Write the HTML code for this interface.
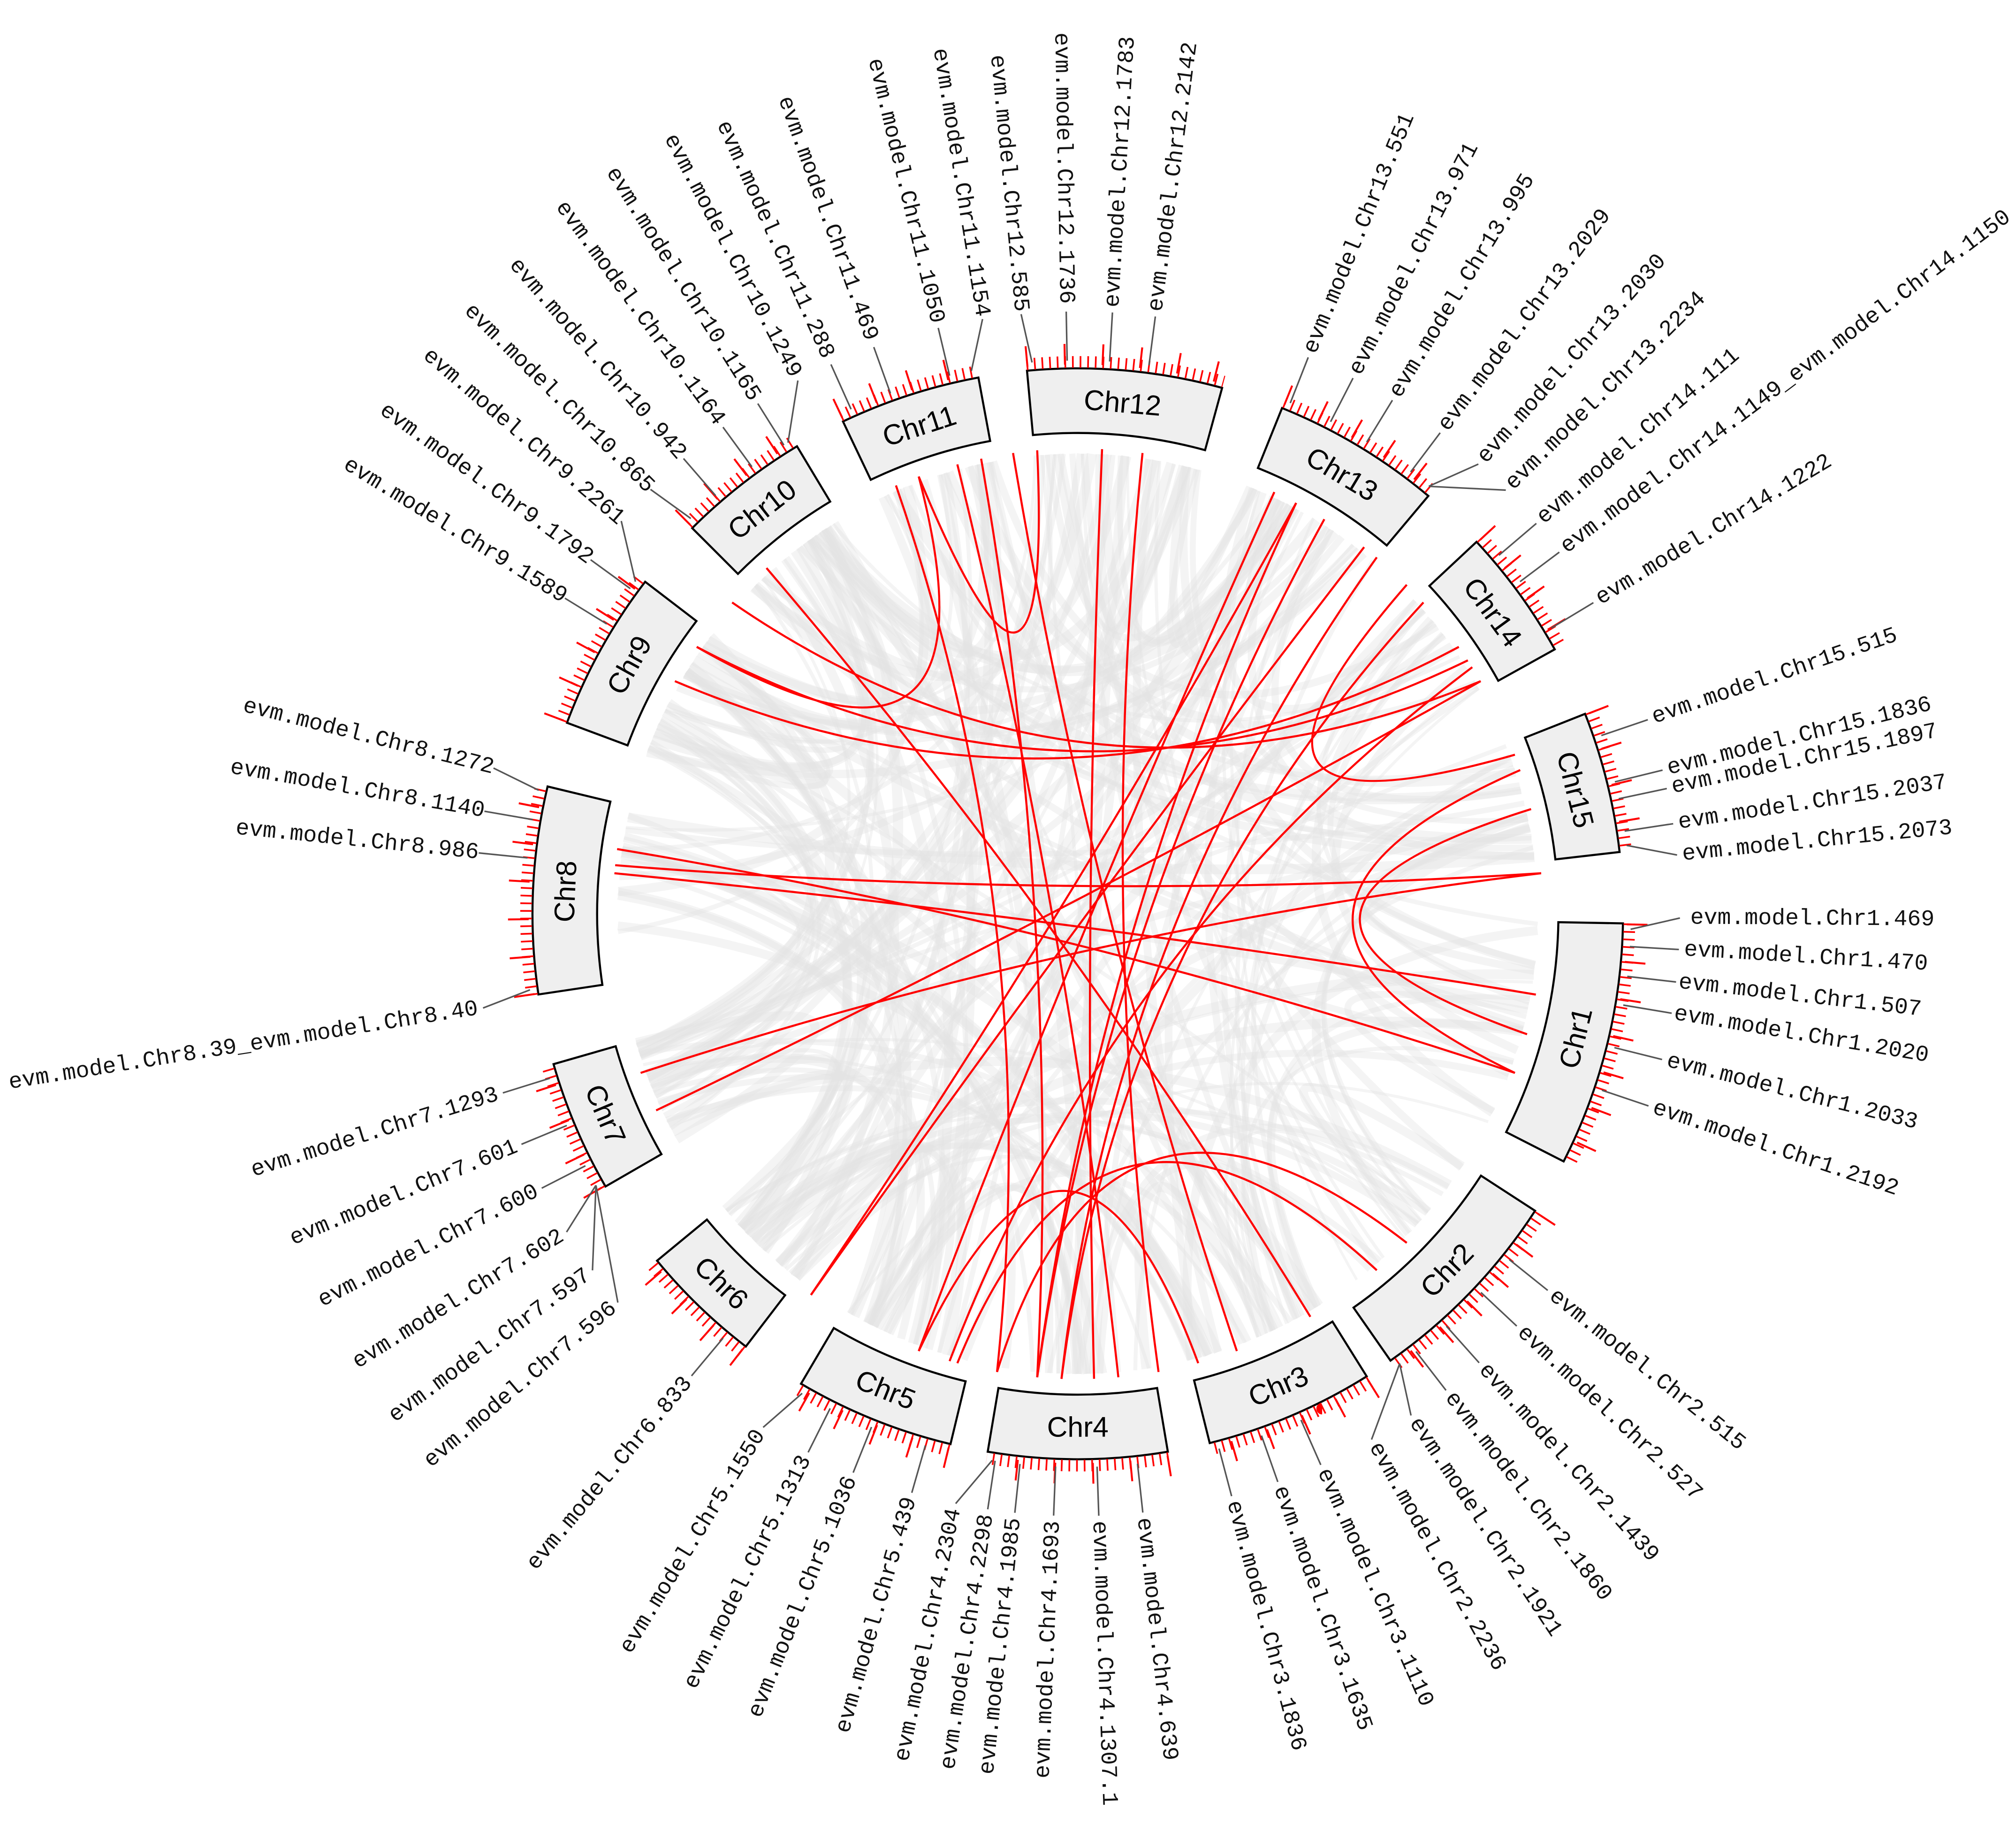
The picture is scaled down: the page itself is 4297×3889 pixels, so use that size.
<!DOCTYPE html>
<html><head><meta charset="utf-8">
<style>
html,body{margin:0;padding:0;background:#fff;}
svg{display:block;}
.lb{font-family:"Liberation Mono",monospace;font-size:17.5px;fill:#111;dominant-baseline:central;}
.ch{font-family:"Liberation Sans",sans-serif;font-size:22px;fill:#000;text-anchor:middle;dominant-baseline:central;}
.ld{stroke:#555;stroke-width:1.2;}
</style></head>
<body>
<svg id="s" width="4297" height="3889" viewBox="0 0 1560 1412" xmlns="http://www.w3.org/2000/svg">
<rect width="1560" height="1412" fill="#fff"/>
<g id="gray"></g>
<g id="red"></g>
<g id="boxes"></g>
<g id="labels" transform="translate(834,707)">
<text class="ch" transform="rotate(5) translate(0,-397)">Chr12</text>
<text class="ch" transform="rotate(31) translate(0,-397)">Chr13</text>
<text class="ch" transform="rotate(54) translate(0,-397)">Chr14</text>
<text class="ch" transform="rotate(76) translate(0,-397)">Chr15</text>
<text class="ch" transform="rotate(104) translate(0,-397) rotate(180)">Chr1</text>
<text class="ch" transform="rotate(134) translate(0,-397) rotate(180)">Chr2</text>
<text class="ch" transform="rotate(157) translate(0,-397) rotate(180)">Chr3</text>
<text class="ch" transform="rotate(180) translate(0,-397) rotate(180)">Chr4</text>
<text class="ch" transform="rotate(202) translate(0,-397) rotate(180)">Chr5</text>
<text class="ch" transform="rotate(224) translate(0,-397) rotate(180)">Chr6</text>
<text class="ch" transform="rotate(247) translate(0,-397) rotate(180)">Chr7</text>
<text class="ch" transform="rotate(272.5) translate(0,-397)">Chr8</text>
<text class="ch" transform="rotate(299) translate(0,-397)">Chr9</text>
<text class="ch" transform="rotate(322) translate(0,-397)">Chr10</text>
<text class="ch" transform="rotate(342) translate(0,-397)">Chr11</text>

<g transform="rotate(-86.7)"><line class="ld" x1="428" y1="0" x2="466" y2="0"/><text class="lb" x="470">evm.model.Chr12.1783</text></g>
<g transform="rotate(-82.6)"><line class="ld" x1="428" y1="0" x2="466" y2="0"/><text class="lb" x="470">evm.model.Chr12.2142</text></g>
<g transform="rotate(-67.5)"><line class="ld" x1="428" y1="0" x2="466" y2="0"/><text class="lb" x="470">evm.model.Chr13.551</text></g>
<g transform="rotate(-62.8)"><line class="ld" x1="428" y1="0" x2="466" y2="0"/><text class="lb" x="470">evm.model.Chr13.971</text></g>
<g transform="rotate(-58.5)"><line class="ld" x1="428" y1="0" x2="466" y2="0"/><text class="lb" x="470">evm.model.Chr13.995</text></g>
<g transform="rotate(-53)"><line class="ld" x1="428" y1="0" x2="466" y2="0"/><text class="lb" x="470">evm.model.Chr13.2029</text></g>
<g transform="rotate(-48.3)"><line class="ld" x1="428" y1="0" x2="466" y2="0"/><text class="lb" x="470">evm.model.Chr13.2030</text></g>
<g transform="rotate(-44.7)"><line class="ld" x1="428" y1="0" x2="466" y2="0"/><text class="lb" x="470">evm.model.Chr13.2234</text></g>
<g transform="rotate(-40.4)"><line class="ld" x1="428" y1="0" x2="466" y2="0"/><text class="lb" x="470">evm.model.Chr14.111</text></g>
<g transform="rotate(-36.9)"><line class="ld" x1="428" y1="0" x2="466" y2="0"/><text class="lb" x="470">evm.model.Chr14.1149_evm.model.Chr14.1150</text></g>
<g transform="rotate(-31.1)"><line class="ld" x1="428" y1="0" x2="466" y2="0"/><text class="lb" x="470">evm.model.Chr14.1222</text></g>
<g transform="rotate(-18.8)"><line class="ld" x1="428" y1="0" x2="466" y2="0"/><text class="lb" x="470">evm.model.Chr15.515</text></g>
<g transform="rotate(-13.8)"><line class="ld" x1="428" y1="0" x2="466" y2="0"/><text class="lb" x="470">evm.model.Chr15.1836</text></g>
<g transform="rotate(-12)"><line class="ld" x1="428" y1="0" x2="466" y2="0"/><text class="lb" x="470">evm.model.Chr15.1897</text></g>
<g transform="rotate(-8.6)"><line class="ld" x1="428" y1="0" x2="466" y2="0"/><text class="lb" x="470">evm.model.Chr15.2037</text></g>
<g transform="rotate(-5.6)"><line class="ld" x1="428" y1="0" x2="466" y2="0"/><text class="lb" x="470">evm.model.Chr15.2073</text></g>
<g transform="rotate(0.4)"><line class="ld" x1="428" y1="0" x2="466" y2="0"/><text class="lb" x="474">evm.model.Chr1.469</text></g>
<g transform="rotate(3.4)"><line class="ld" x1="428" y1="0" x2="466" y2="0"/><text class="lb" x="470">evm.model.Chr1.470</text></g>
<g transform="rotate(6.5)"><line class="ld" x1="428" y1="0" x2="466" y2="0"/><text class="lb" x="468">evm.model.Chr1.507</text></g>
<g transform="rotate(9.5)"><line class="ld" x1="428" y1="0" x2="466" y2="0"/><text class="lb" x="468">evm.model.Chr1.2020</text></g>
<g transform="rotate(14)"><line class="ld" x1="428" y1="0" x2="466" y2="0"/><text class="lb" x="470">evm.model.Chr1.2033</text></g>
<g transform="rotate(18.6)"><line class="ld" x1="428" y1="0" x2="466" y2="0"/><text class="lb" x="470">evm.model.Chr1.2192</text></g>
<g transform="rotate(38.7)"><line class="ld" x1="428" y1="0" x2="466" y2="0"/><text class="lb" x="470">evm.model.Chr2.515</text></g>
<g transform="rotate(43.2)"><line class="ld" x1="428" y1="0" x2="466" y2="0"/><text class="lb" x="470">evm.model.Chr2.527</text></g>
<g transform="rotate(48.2)"><line class="ld" x1="428" y1="0" x2="466" y2="0"/><text class="lb" x="470">evm.model.Chr2.1439</text></g>
<g transform="rotate(52.3)"><line class="ld" x1="428" y1="0" x2="466" y2="0"/><text class="lb" x="470">evm.model.Chr2.1860</text></g>
<g transform="rotate(56.4)"><line class="ld" x1="428" y1="0" x2="466" y2="0"/><text class="lb" x="470">evm.model.Chr2.1921</text></g>
<g transform="rotate(60.8)"><line class="ld" x1="428" y1="0" x2="466" y2="0"/><text class="lb" x="470">evm.model.Chr2.2236</text></g>
<g transform="rotate(66.2)"><line class="ld" x1="428" y1="0" x2="466" y2="0"/><text class="lb" x="470">evm.model.Chr3.1110</text></g>
<g transform="rotate(70.6)"><line class="ld" x1="428" y1="0" x2="466" y2="0"/><text class="lb" x="470">evm.model.Chr3.1635</text></g>
<g transform="rotate(75.2)"><line class="ld" x1="428" y1="0" x2="466" y2="0"/><text class="lb" x="470">evm.model.Chr3.1836</text></g>
<g transform="rotate(83.8)"><line class="ld" x1="428" y1="0" x2="466" y2="0"/><text class="lb" x="470">evm.model.Chr4.639</text></g>
<g transform="rotate(88)"><line class="ld" x1="428" y1="0" x2="466" y2="0"/><text class="lb" x="470">evm.model.Chr4.1307.1</text></g>

<g transform="rotate(272.3)"><line class="ld" x1="-428" y1="0" x2="-466" y2="0"/><text class="lb" x="-470" text-anchor="end">evm.model.Chr4.1693</text></g>
<g transform="rotate(276)"><line class="ld" x1="-428" y1="0" x2="-466" y2="0"/><text class="lb" x="-470" text-anchor="end">evm.model.Chr4.1985</text></g>
<g transform="rotate(278.6)"><line class="ld" x1="-428" y1="0" x2="-466" y2="0"/><text class="lb" x="-470" text-anchor="end">evm.model.Chr4.2298</text></g>
<g transform="rotate(281.7)"><line class="ld" x1="-428" y1="0" x2="-466" y2="0"/><text class="lb" x="-470" text-anchor="end">evm.model.Chr4.2304</text></g>
<g transform="rotate(286)"><line class="ld" x1="-428" y1="0" x2="-466" y2="0"/><text class="lb" x="-470" text-anchor="end">evm.model.Chr5.439</text></g>
<g transform="rotate(291.9)"><line class="ld" x1="-428" y1="0" x2="-466" y2="0"/><text class="lb" x="-470" text-anchor="end">evm.model.Chr5.1036</text></g>
<g transform="rotate(296.6)"><line class="ld" x1="-428" y1="0" x2="-466" y2="0"/><text class="lb" x="-470" text-anchor="end">evm.model.Chr5.1313</text></g>
<g transform="rotate(301.5)"><line class="ld" x1="-428" y1="0" x2="-466" y2="0"/><text class="lb" x="-470" text-anchor="end">evm.model.Chr5.1550</text></g>
<g transform="rotate(309.9)"><line class="ld" x1="-428" y1="0" x2="-466" y2="0"/><text class="lb" x="-470" text-anchor="end">evm.model.Chr6.833</text></g>
<g transform="rotate(319.8)"><line class="ld" x1="-428" y1="0" x2="-466" y2="0"/><text class="lb" x="-470" text-anchor="end">evm.model.Chr7.596</text></g>
<g transform="rotate(323.7)"><line class="ld" x1="-428" y1="0" x2="-466" y2="0"/><text class="lb" x="-470" text-anchor="end">evm.model.Chr7.597</text></g>
<g transform="rotate(328.1)"><line class="ld" x1="-428" y1="0" x2="-466" y2="0"/><text class="lb" x="-470" text-anchor="end">evm.model.Chr7.602</text></g>
<g transform="rotate(332.9)"><line class="ld" x1="-428" y1="0" x2="-466" y2="0"/><text class="lb" x="-470" text-anchor="end">evm.model.Chr7.600</text></g>
<g transform="rotate(337.5)"><line class="ld" x1="-428" y1="0" x2="-466" y2="0"/><text class="lb" x="-470" text-anchor="end">evm.model.Chr7.601</text></g>
<g transform="rotate(342.7)"><line class="ld" x1="-428" y1="0" x2="-466" y2="0"/><text class="lb" x="-470" text-anchor="end">evm.model.Chr7.1293</text></g>
<g transform="rotate(351)"><line class="ld" x1="-428" y1="0" x2="-466" y2="0"/><text class="lb" x="-470" text-anchor="end">evm.model.Chr8.39_evm.model.Chr8.40</text></g>
<g transform="rotate(365.8)"><line class="ld" x1="-428" y1="0" x2="-466" y2="0"/><text class="lb" x="-466" text-anchor="end">evm.model.Chr8.986</text></g>
<g transform="rotate(369.8)"><line class="ld" x1="-428" y1="0" x2="-466" y2="0"/><text class="lb" x="-466" text-anchor="end">evm.model.Chr8.1140</text></g>
<g transform="rotate(374)"><line class="ld" x1="-428" y1="0" x2="-466" y2="0"/><text class="lb" x="-466" text-anchor="end">evm.model.Chr8.1272</text></g>
<g transform="rotate(391.6)"><line class="ld" x1="-428" y1="0" x2="-466" y2="0"/><text class="lb" x="-466" text-anchor="end">evm.model.Chr9.1589</text></g>
<g transform="rotate(396)"><line class="ld" x1="-428" y1="0" x2="-466" y2="0"/><text class="lb" x="-466" text-anchor="end">evm.model.Chr9.1792</text></g>
<g transform="rotate(400.7)"><line class="ld" x1="-428" y1="0" x2="-466" y2="0"/><text class="lb" x="-466" text-anchor="end">evm.model.Chr9.2261</text></g>
<g transform="rotate(404.8)"><line class="ld" x1="-428" y1="0" x2="-466" y2="0"/><text class="lb" x="-466" text-anchor="end">evm.model.Chr10.865</text></g>
<g transform="rotate(409.1)"><line class="ld" x1="-428" y1="0" x2="-466" y2="0"/><text class="lb" x="-468" text-anchor="end">evm.model.Chr10.942</text></g>
<g transform="rotate(413.9)"><line class="ld" x1="-428" y1="0" x2="-466" y2="0"/><text class="lb" x="-470" text-anchor="end">evm.model.Chr10.1164</text></g>
<g transform="rotate(417.9)"><line class="ld" x1="-428" y1="0" x2="-466" y2="0"/><text class="lb" x="-470" text-anchor="end">evm.model.Chr10.1165</text></g>
<g transform="rotate(422.3)"><line class="ld" x1="-428" y1="0" x2="-466" y2="0"/><text class="lb" x="-470" text-anchor="end">evm.model.Chr10.1249</text></g>
<g transform="rotate(425.8)"><line class="ld" x1="-428" y1="0" x2="-466" y2="0"/><text class="lb" x="-472" text-anchor="end">evm.model.Chr11.288</text></g>
<g transform="rotate(430.2)"><line class="ld" x1="-428" y1="0" x2="-466" y2="0"/><text class="lb" x="-472" text-anchor="end">evm.model.Chr11.469</text></g>
<g transform="rotate(436.6)"><line class="ld" x1="-428" y1="0" x2="-466" y2="0"/><text class="lb" x="-470" text-anchor="end">evm.model.Chr11.1050</text></g>
<g transform="rotate(440.9)"><line class="ld" x1="-428" y1="0" x2="-466" y2="0"/><text class="lb" x="-468" text-anchor="end">evm.model.Chr11.1154</text></g>
<g transform="rotate(444.6)"><line class="ld" x1="-428" y1="0" x2="-466" y2="0"/><text class="lb" x="-468" text-anchor="end">evm.model.Chr12.585</text></g>
<g transform="rotate(448.9)"><line class="ld" x1="-428" y1="0" x2="-466" y2="0"/><text class="lb" x="-472" text-anchor="end">evm.model.Chr12.1736</text></g>
</g>
</svg>
<script>
(function(){
var NS="http://www.w3.org/2000/svg",cx=834,cy=707;
function P(a,r){var t=a*Math.PI/180;return [cx+r*Math.sin(t),cy-r*Math.cos(t)];}
function f(p){return p[0].toFixed(1)+","+p[1].toFixed(1);}
function el(par,tag,at){var e=document.createElementNS(NS,tag);for(var k in at)e.setAttribute(k,at[k]);par.appendChild(e);return e;}
var ch=[[5,20.7],[31,18],[54,14],[76,15],[104,26],[134,22],[157,18],[180,19],[202,17],[224,13],[247,14],[272.5,22],[299,17],[322,14],[342,15]];
var names=[12,13,14,15,1,2,3,4,5,6,7,8,9,10,11];
var B=document.getElementById("boxes");
ch.forEach(function(c){
  var a1=c[0]-c[1]/2,a2=c[0]+c[1]/2,r1=372,r2=422;
  el(B,"path",{d:"M"+f(P(a1,r2))+" A"+r2+" "+r2+" 0 0 1 "+f(P(a2,r2))+" L"+f(P(a2,r1))+" A"+r1+" "+r1+" 0 0 0 "+f(P(a1,r1))+" Z",fill:"#efefef",stroke:"#000","stroke-width":1.6});
  var r=427;
  el(B,"path",{d:"M"+f(P(a1,r))+" A"+r+" "+r+" 0 0 1 "+f(P(a2,r)),fill:"none",stroke:"#f00","stroke-width":9,"stroke-dasharray":"1.3 4.6"});
  r=433;
  el(B,"path",{d:"M"+f(P(a1,r))+" A"+r+" "+r+" 0 0 1 "+f(P(a2,r)),fill:"none",stroke:"#f00","stroke-width":16,"stroke-dasharray":"1.5 28.1"});
});
var gs=document.querySelectorAll("#labels > g");
for(var i=0;i<gs.length;i++){
  var g=gs[i],rot=parseFloat(g.getAttribute("transform").match(/rotate\(([-\d.]+)/)[1]);
  var ln=g.querySelector("line"),left=parseFloat(ln.getAttribute("x1"))<0;
  var a=left?rot-90:rot+90; a=((a%360)+360)%360;
  var num=parseInt(g.querySelector("text").textContent.match(/Chr(\d+)/)[1]);
  var c=ch[names.indexOf(num)];
  var d=((a-c[0]+540)%360)-180,h=c[1]/2-0.6;
  var dc=Math.max(-h,Math.min(h,d));var at=c[0]+dc;
  var diff=((at-a+540)%360)-180, t=diff*Math.PI/180, r=428;
  var x=r*Math.cos(t),y=r*Math.sin(t);
  if(left){x=-x;y=-y;}
  ln.setAttribute("x1",x.toFixed(1));ln.setAttribute("y1",y.toFixed(1));
}
var G=document.getElementById("gray"),seed=7;
function rnd(){seed=(seed*16807)%2147483647;return seed/2147483647;}
function pos(){var c=ch[Math.floor(rnd()*ch.length)];return c[0]-c[1]/2+rnd()*c[1];}
function link(par,a,b,r,col,w,op){
  var p1=P(a,r),p2=P(b,r),m=[(p1[0]+p2[0])/2,(p1[1]+p2[1])/2];
  var q=[cx+0.25*(m[0]-cx),cy+0.25*(m[1]-cy)];
  el(par,"path",{d:"M"+f(p1)+" Q"+f(q)+" "+f(p2),fill:"none",stroke:col,"stroke-width":w,"stroke-opacity":op});
}
for(var i=0;i<240;i++){var a=pos(),b=pos();if(Math.abs(a-b)<8)continue;link(G,a,b,356,"#e4e4e4",2+rnd()*6,0.4);}
var R=document.getElementById("red");
var rl=[[348,185],[345,175],[352,160],[3,178],[8,170],[25,200],[28,215],[32,185],[318,150],[305,340],[305,57],[300,55],[275,100],[276,85],[278,110],[250,85],[245,60],[215,38],[195,140],[190,135],[200,165],[185,28],[182,40],[45,70],[77,105],[340,355],[312,60],[337,190],[48,182],[58,196],[72,110]];
rl.forEach(function(l){link(R,l[0],l[1],360,"#f00",1.6,1);});
})();
</script>
</body></html>
